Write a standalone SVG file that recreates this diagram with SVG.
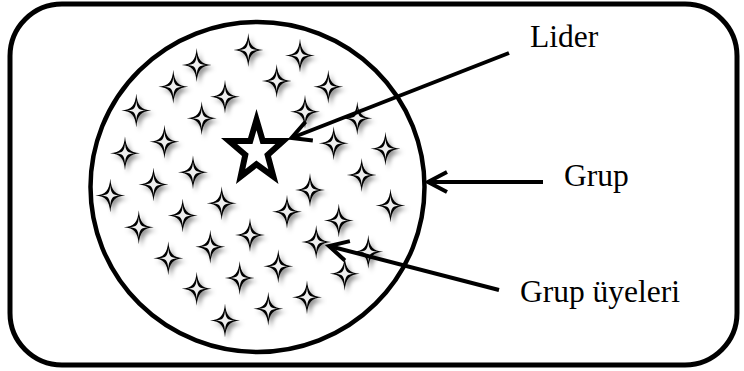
<svg xmlns="http://www.w3.org/2000/svg" xmlns:xlink="http://www.w3.org/1999/xlink" width="744" height="371" viewBox="0 0 744 371">
<style>
.lbl{font-family:"Liberation Serif","Times New Roman",serif;font-size:31.5px;fill:#000}
.ln{fill:none;stroke:#000;stroke-width:4;marker-end:url(#arr)}
</style>
<defs>
<filter id="sh" x="-50%" y="-50%" width="200%" height="200%">
<feDropShadow dx="3" dy="3.5" stdDeviation="2" flood-color="#000" flood-opacity="0.4"/>
</filter>
<g id="sp">
<path d="M0,-17 C1.1,-4.5 4.5,-1.1 15,0 C4.5,1.1 1.1,4.5 0,17 C-1.1,4.5 -4.5,1.1 -15,0 C-4.5,-1.1 -1.1,-4.5 0,-17Z" fill="#000"/>
<path d="M0,-10.5 C0.5,-2.2 2.2,-0.5 9.5,0 C2.2,0.5 0.5,2.2 0,10.5 C-0.5,2.2 -2.2,0.5 -9.5,0 C-2.2,-0.5 -0.5,-2.2 0,-10.5Z" fill="#eee"/>
</g>
<marker id="arr" markerUnits="userSpaceOnUse" viewBox="-30 -15 35 30" refX="0" refY="0" markerWidth="35" markerHeight="30" orient="auto" overflow="visible">
<path d="M-19,-10 L0,0 L-19,10" fill="none" stroke="#000" stroke-width="4"/>
</marker>
<clipPath id="sc"><polygon points="256.5,109 265,138 291,138 271,156 278.5,184 256.5,168 236,184 242,156 221,138 248,138"/></clipPath>
</defs>
<rect x="10" y="4" width="727" height="361" rx="52" ry="52" fill="#fff" stroke="#000" stroke-width="5"/>
<g id="group">
<ellipse cx="257.5" cy="187" rx="167" ry="165" fill="none" stroke="#000" stroke-width="4.5"/>
</g>
<g id="members" filter="url(#sh)">
<use xlink:href="#sp" x="248.3" y="50"/>
<use xlink:href="#sp" x="300" y="55.5"/>
<use xlink:href="#sp" x="196.7" y="65"/>
<use xlink:href="#sp" x="276.7" y="81"/>
<use xlink:href="#sp" x="328.3" y="86.7"/>
<use xlink:href="#sp" x="173.3" y="86.7"/>
<use xlink:href="#sp" x="225" y="96.7"/>
<use xlink:href="#sp" x="136.3" y="110.5"/>
<use xlink:href="#sp" x="201.7" y="118.3"/>
<use xlink:href="#sp" x="305" y="111.7"/>
<use xlink:href="#sp" x="357.3" y="118.3"/>
<use xlink:href="#sp" x="164.5" y="141.7"/>
<use xlink:href="#sp" x="125" y="153.3"/>
<use xlink:href="#sp" x="333.7" y="143.3"/>
<use xlink:href="#sp" x="385.5" y="148.7"/>
<use xlink:href="#sp" x="193" y="172.3"/>
<use xlink:href="#sp" x="153.5" y="184.5"/>
<use xlink:href="#sp" x="361.7" y="175"/>
<use xlink:href="#sp" x="110.3" y="195.5"/>
<use xlink:href="#sp" x="310" y="190"/>
<use xlink:href="#sp" x="221.7" y="203.3"/>
<use xlink:href="#sp" x="182.7" y="215.5"/>
<use xlink:href="#sp" x="287" y="211.7"/>
<use xlink:href="#sp" x="390.5" y="205.5"/>
<use xlink:href="#sp" x="138.8" y="227.3"/>
<use xlink:href="#sp" x="338.8" y="220.5"/>
<use xlink:href="#sp" x="250" y="235"/>
<use xlink:href="#sp" x="316.2" y="242"/>
<use xlink:href="#sp" x="210.3" y="246.7"/>
<use xlink:href="#sp" x="368.3" y="251.7"/>
<use xlink:href="#sp" x="168.3" y="258.3"/>
<use xlink:href="#sp" x="278.3" y="266.3"/>
<use xlink:href="#sp" x="344.7" y="273.8"/>
<use xlink:href="#sp" x="239.7" y="278"/>
<use xlink:href="#sp" x="196.7" y="288.8"/>
<use xlink:href="#sp" x="307" y="297.2"/>
<use xlink:href="#sp" x="268.3" y="308.7"/>
<use xlink:href="#sp" x="225" y="320.5"/>
</g>
<g id="leader">
<polygon points="256.5,109 265,138 291,138 271,156 278.5,184 256.5,168 236,184 242,156 221,138 248,138" fill="#fff" stroke="#000" stroke-width="12" stroke-linejoin="miter" clip-path="url(#sc)"/>
</g>
<g id="connectors">
<line class="ln" x1="509" y1="53" x2="291.5" y2="138"/>
<line class="ln" x1="543" y1="182" x2="428" y2="182"/>
<line class="ln" x1="499" y1="290" x2="329" y2="246"/>
</g>
<g id="labels">
<text class="lbl" x="530" y="46.5">Lider</text>
<text class="lbl" x="564" y="185.5">Grup</text>
<text class="lbl" x="520" y="301.5">Grup üyeleri</text>
</g>
</svg>
